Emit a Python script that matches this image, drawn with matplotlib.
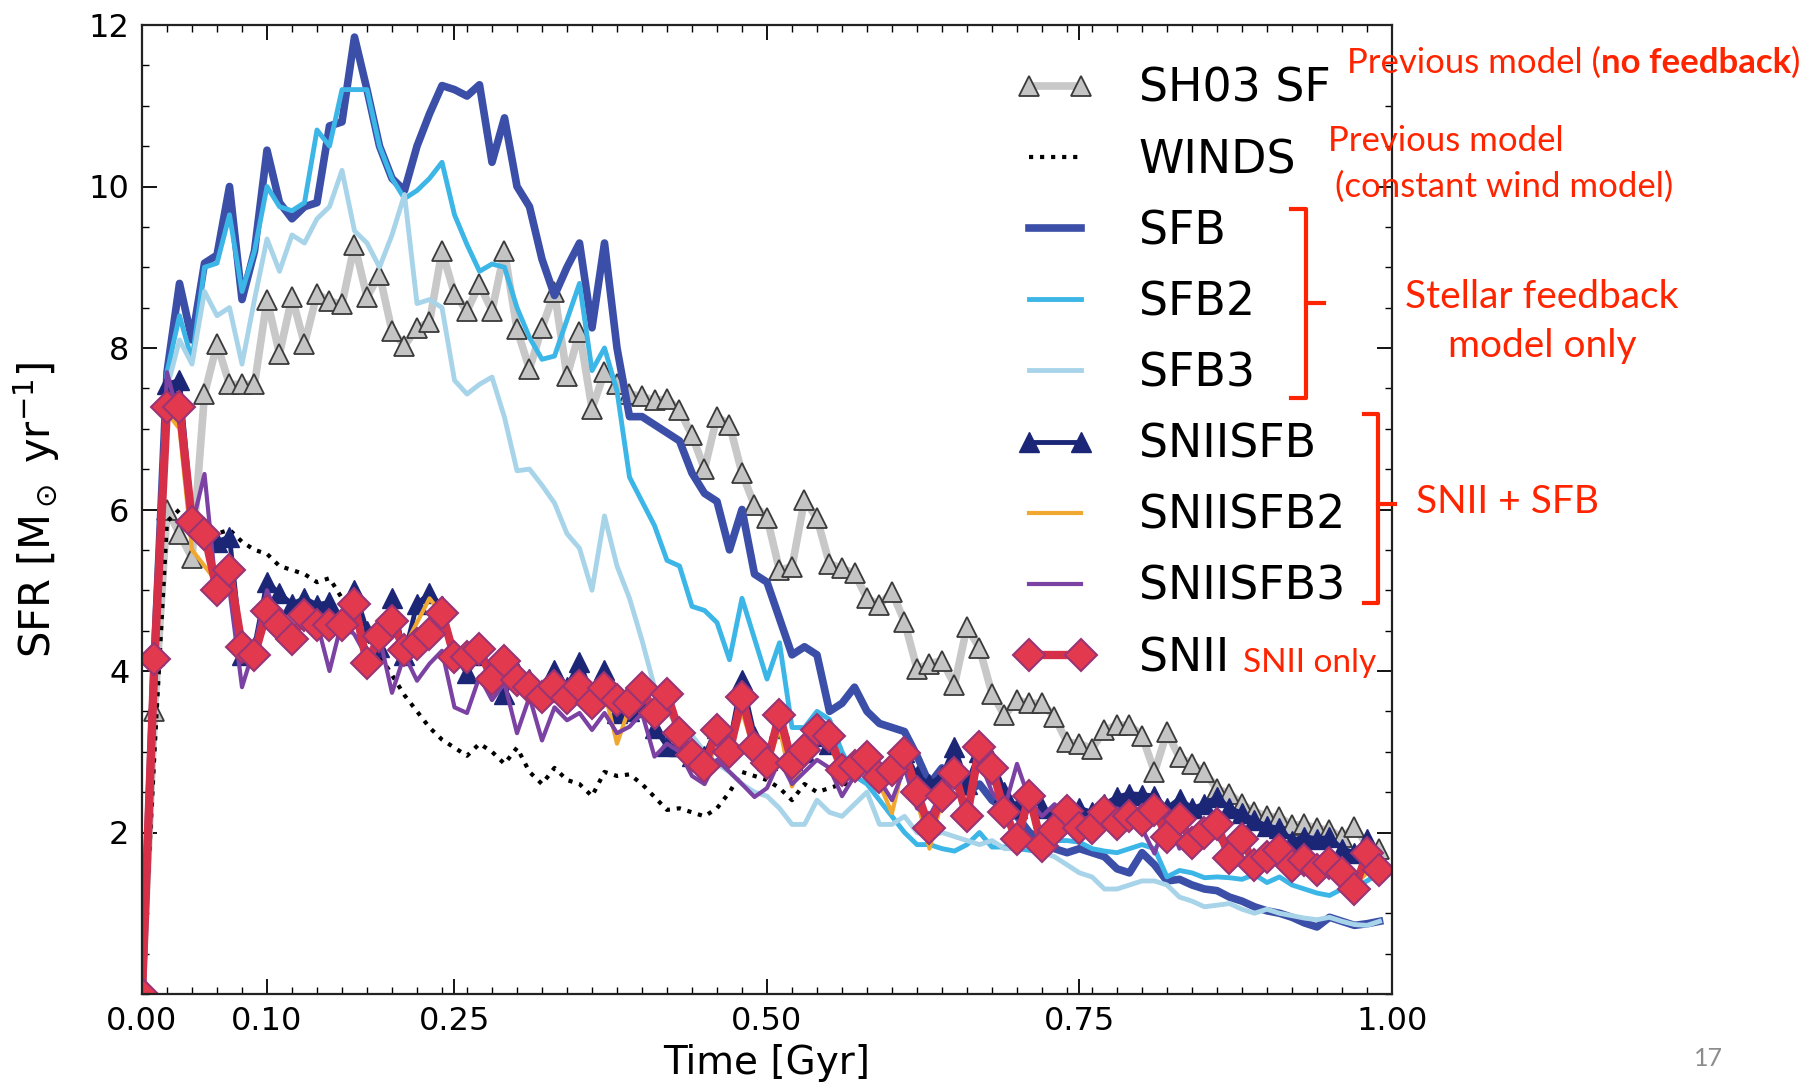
import numpy as np
import matplotlib
matplotlib.use('Agg')
import matplotlib.pyplot as plt
from matplotlib.ticker import MultipleLocator

# time grid of the simulation outputs (Gyr), one output every 0.01 Gyr
time_gyr = np.arange(100) * 0.01

sh03 = [0.0, 3.5, 6.0, 5.7, 5.4, 7.43, 8.05, 7.55, 7.55, 7.55,
        8.6, 7.93, 8.63, 8.05, 8.67, 8.58, 8.54, 9.28, 8.63, 8.91,
        8.21, 8.03, 8.25, 8.32, 9.2, 8.67, 8.46, 8.79, 8.46, 9.2,
        8.23, 7.74, 8.25, 8.69, 7.65, 8.2, 7.25, 7.7, 7.56, 7.43,
        7.4, 7.35, 7.37, 7.23, 6.92, 6.5, 7.15, 7.05, 6.45, 6.05,
        5.9, 5.25, 5.29, 6.12, 5.89, 5.33, 5.27, 5.21, 4.9, 4.82,
        4.98, 4.61, 4.03, 4.09, 4.13, 3.83, 4.55, 4.28, 3.72, 3.45,
        3.64, 3.6, 3.6, 3.43, 3.12, 3.1, 3.04, 3.27, 3.33, 3.33,
        3.2, 2.75, 3.24, 2.93, 2.85, 2.75, 2.54, 2.48, 2.35, 2.26,
        2.2, 2.19, 2.09, 2.1, 2.05, 2.03, 1.94, 2.07, 1.85, 1.8]

# the WINDS run stops around 0.57 Gyr
winds = [0.0, 3.0, 5.85, 6.0, 5.8, 5.75, 5.7, 5.75, 5.6, 5.5,
         5.45, 5.3, 5.25, 5.2, 5.1, 5.15, 4.9, 4.7, 4.4, 4.2,
         3.95, 3.7, 3.5, 3.3, 3.15, 3.05, 2.95, 3.1, 3.0, 2.85,
         3.05, 2.75, 2.6, 2.8, 2.65, 2.6, 2.45, 2.75, 2.7, 2.72,
         2.6, 2.44, 2.28, 2.3, 2.25, 2.2, 2.3, 2.5, 2.75, 2.7,
         2.65, 2.55, 2.4, 2.6, 2.5, 2.55, 2.6, 2.6]

sfb = [0.0, 4.2, 7.7, 8.8, 8.1, 9.05, 9.15, 10.0, 8.6, 9.2,
       10.45, 9.8, 9.6, 9.75, 9.8, 10.75, 10.8, 11.85, 11.2, 10.5,
       10.1, 9.95, 10.5, 10.9, 11.25, 11.2, 11.12, 11.26, 10.3, 10.85,
       10.0, 9.75, 9.1, 8.65, 9.0, 9.3, 8.25, 9.3, 8.0, 7.15,
       7.15, 7.05, 6.95, 6.85, 6.45, 6.2, 6.1, 5.5, 6.0, 5.2,
       5.1, 4.65, 4.2, 4.3, 4.2, 3.5, 3.6, 3.8, 3.5, 3.35,
       3.3, 3.25, 2.95, 2.6, 2.8, 2.7, 2.5, 2.6, 2.4, 2.3,
       2.2, 2.0, 1.9, 1.8, 1.75, 1.8, 1.75, 1.7, 1.55, 1.5,
       1.75, 1.6, 1.4, 1.42, 1.35, 1.3, 1.28, 1.2, 1.15, 1.08,
       1.03, 1.0, 0.95, 0.88, 0.83, 0.95, 0.9, 0.85, 0.87, 0.9]

sfb2 = [0.0, 4.2, 7.7, 8.4, 7.85, 9.0, 9.05, 9.65, 8.7, 9.2,
        10.0, 9.75, 9.7, 9.8, 10.7, 10.5, 11.2, 11.2, 11.2, 10.5,
        10.1, 9.85, 9.95, 10.1, 10.3, 9.65, 9.28, 8.95, 9.04, 9.0,
        8.5, 8.13, 7.86, 7.9, 8.35, 8.8, 7.72, 8.0, 7.47, 6.4,
        6.1, 5.8, 5.37, 5.3, 4.8, 4.75, 4.6, 4.14, 4.9, 4.4,
        3.9, 4.35, 3.3, 3.3, 3.5, 3.4, 3.0, 2.7, 2.6, 2.4,
        2.2, 2.0, 1.85, 1.85, 1.8, 1.77, 1.85, 2.0, 1.82, 1.82,
        1.8, 1.78, 1.75, 1.9, 1.9, 1.88, 1.8, 1.77, 1.75, 1.8,
        1.85, 1.8, 1.45, 1.53, 1.5, 1.44, 1.45, 1.44, 1.42, 1.48,
        1.38, 1.45, 1.35, 1.3, 1.25, 1.22, 1.3, 1.32, 1.4, 1.5]

sfb3 = [0.0, 4.2, 7.5, 8.1, 7.8, 8.7, 8.4, 8.5, 7.8, 8.6,
        9.35, 8.95, 9.4, 9.3, 9.6, 9.75, 10.2, 9.45, 9.3, 9.0,
        9.4, 9.9, 8.55, 8.6, 8.5, 7.6, 7.43, 7.55, 7.64, 7.14,
        6.48, 6.5, 6.3, 6.08, 5.7, 5.52, 5.0, 5.92, 5.3, 4.9,
        4.38, 3.8, 3.5, 3.3, 3.2, 3.0, 2.85, 2.75, 2.6, 2.5,
        2.45, 2.3, 2.1, 2.1, 2.4, 2.25, 2.2, 2.35, 2.5, 2.1,
        2.1, 2.2, 2.0, 1.95, 2.0, 1.95, 1.9, 1.85, 1.9, 1.8,
        1.8, 1.85, 1.75, 1.7, 1.6, 1.5, 1.45, 1.3, 1.3, 1.35,
        1.4, 1.4, 1.35, 1.2, 1.15, 1.08, 1.1, 1.12, 1.05, 1.0,
        1.05, 1.0, 0.97, 0.94, 0.92, 0.95, 0.9, 0.86, 0.85, 0.9]

sniisfb = [0.0, 4.2, 7.55, 7.6, 5.9, 5.75, 5.6, 5.66, 4.2, 4.3,
           5.1, 4.96, 4.83, 4.9, 4.82, 4.85, 4.6, 5.0, 4.5, 4.3,
           4.9, 4.2, 4.83, 4.96, 4.8, 4.2, 3.97, 4.2, 4.05, 3.72,
           4.0, 3.9, 3.75, 4.01, 3.8, 4.11, 3.7, 4.01, 3.48, 3.5,
           3.55, 3.3, 3.07, 3.07, 2.95, 2.95, 3.3, 3.1, 3.89, 3.2,
           2.9, 3.3, 2.9, 3.0, 3.2, 3.1, 2.8, 2.9, 3.0, 2.75,
           2.8, 3.0, 2.7, 2.6, 2.7, 3.06, 2.6, 3.0, 2.9, 2.5,
           2.3, 2.5, 2.3, 2.2, 2.3, 2.3, 2.25, 2.35, 2.44, 2.48,
           2.47, 2.45, 2.3, 2.42, 2.3, 2.35, 2.44, 2.3, 2.24, 2.15,
           2.08, 2.05, 1.9, 1.95, 1.92, 1.94, 1.8, 1.75, 1.92, 1.6]

sniisfb2 = [0.0, 4.2, 7.2, 7.0, 5.5, 5.3, 5.1, 5.3, 4.4, 4.3,
            4.7, 4.6, 4.45, 4.7, 4.55, 4.6, 4.5, 4.8, 4.15, 4.45,
            4.65, 4.3, 4.6, 4.9, 4.7, 4.2, 4.1, 4.25, 4.0, 4.2,
            3.85, 3.8, 3.7, 3.85, 3.7, 3.8, 3.6, 3.75, 3.1, 3.55,
            3.75, 3.45, 3.6, 3.2, 2.9, 2.6, 3.2, 3.0, 3.5, 3.0,
            2.8, 3.3, 2.57, 2.9, 3.2, 3.1, 2.75, 2.8, 2.85, 2.6,
            2.24, 2.9, 2.4, 1.8, 2.4, 2.7, 2.1, 2.95, 2.7, 2.2,
            1.9, 2.4, 1.8, 2.0, 2.2, 2.0, 2.0, 2.2, 2.1, 2.2,
            2.1, 2.25, 1.9, 2.3, 1.85, 2.0, 2.05, 1.7, 1.9, 1.6,
            1.7, 1.75, 1.6, 1.65, 1.55, 1.6, 1.5, 1.35, 1.5, 1.55]

sniisfb3 = [0.0, 4.2, 7.7, 7.1, 5.8, 6.44, 4.9, 5.0, 3.8, 4.3,
            5.0, 4.62, 4.45, 4.7, 4.6, 4.0, 4.62, 4.45, 4.17, 4.42,
            3.73, 4.2, 3.88, 4.09, 4.25, 3.55, 3.48, 3.93, 3.64, 3.85,
            3.23, 3.68, 3.14, 3.55, 3.39, 3.48, 3.27, 3.48, 3.23, 3.31,
            3.48, 2.94, 3.1, 3.0, 2.7, 2.6, 2.9, 2.75, 2.6, 2.44,
            2.55, 2.9, 2.6, 2.75, 2.9, 2.8, 2.45, 2.7, 2.8, 2.65,
            2.4, 2.8, 2.3, 2.2, 2.5, 2.6, 2.3, 2.9, 2.5, 2.3,
            2.85, 2.4, 2.2, 2.35, 2.2, 2.15, 2.2, 2.1, 2.3, 2.2,
            2.05, 1.74, 2.2, 1.8, 2.05, 1.9, 1.95, 1.75, 1.9, 1.65,
            1.75, 1.8, 1.6, 1.7, 1.6, 1.65, 1.55, 1.4, 1.7, 1.55]

snii = [0.0, 4.15, 7.27, 7.27, 5.85, 5.7, 5.0, 5.25, 4.3, 4.2,
        4.74, 4.57, 4.4, 4.69, 4.57, 4.57, 4.57, 4.83, 4.1, 4.43,
        4.62, 4.26, 4.34, 4.46, 4.72, 4.17, 4.17, 4.27, 3.9, 4.13,
        3.89, 3.8, 3.68, 3.82, 3.66, 3.82, 3.6, 3.79, 3.64, 3.6,
        3.79, 3.48, 3.72, 3.23, 2.96, 2.82, 3.27, 3.0, 3.68, 3.06,
        2.86, 3.46, 2.86, 3.02, 3.27, 3.19, 2.78, 2.82, 2.94, 2.69,
        2.78, 2.99, 2.5, 2.05, 2.45, 2.74, 2.2, 3.06, 2.8, 2.26,
        1.92, 2.45, 1.83, 2.03, 2.27, 2.05, 2.05, 2.25, 2.1, 2.2,
        2.15, 2.28, 1.95, 2.17, 1.87, 2.0, 2.1, 1.69, 1.92, 1.6,
        1.7, 1.78, 1.58, 1.66, 1.54, 1.62, 1.5, 1.3, 1.74, 1.54]

x_ticks = [0.0, 0.1, 0.25, 0.5, 0.75, 1.0]
y_ticks = [2, 4, 6, 8, 10, 12]

RED = '#ff2400'
W, H = 1808, 1086

fig = plt.figure(figsize=(W / 100, H / 100), dpi=100)
ax = fig.add_axes([142 / W, 1 - 994 / H, 1250 / W, 969 / H])

ax.plot(time_gyr, sh03, color='#c8c8c8', lw=5.5, marker='^', ms=15,
        mfc='#c4c4c4', mec='#3a3a3a', mew=1.3, label='SH03 SF')
ax.plot(time_gyr[:len(winds)], winds, color='black', lw=3, ls=':', label='WINDS')
ax.plot(time_gyr, sfb, color='#3b4fa8', lw=5.5, label='SFB')
ax.plot(time_gyr, sfb2, color='#3bb6e6', lw=3.5, label='SFB2')
ax.plot(time_gyr, sfb3, color='#a8d4ea', lw=3.5, label='SFB3')
ax.plot(time_gyr, sniisfb, color='#1c2677', lw=3.5, marker='^', ms=14,
        mfc='#1c2677', mec='#1c2677', label='SNIISFB')
ax.plot(time_gyr, sniisfb2, color='#f0a830', lw=3, label='SNIISFB2')
ax.plot(time_gyr, sniisfb3, color='#7b42a3', lw=3, label='SNIISFB3')
ax.plot(time_gyr, snii, color='#d62f48', lw=6, marker='D', ms=16,
        mfc='#e2394f', mec='#9a3474', mew=1.5, label='SNII')

ax.set_xlim(0, 1.0)
ax.set_ylim(0, 12)
ax.set_xticks(x_ticks)
ax.set_xticklabels(['%.2f' % v for v in x_ticks])
ax.set_yticks(y_ticks)
ax.xaxis.set_minor_locator(MultipleLocator(0.02))
ax.yaxis.set_minor_locator(MultipleLocator(0.5))
ax.tick_params(which='both', direction='in', top=True, right=True, labelsize=23)
ax.tick_params(which='major', length=11, width=1.3, pad=9)
ax.tick_params(which='minor', length=5, width=1.0)
for sp in ax.spines.values():
    sp.set_linewidth(1.6)
    sp.set_color('#222222')

ax.set_xlabel('Time [Gyr]', fontsize=28)
ax.set_ylabel(r'SFR [M$_\odot$ yr$^{-1}$]', fontsize=30)
ax.xaxis.set_label_coords(0.5, -0.052)
ax.yaxis.set_label_coords(-0.064, 0.5)

ax.legend(loc='upper left', bbox_to_anchor=(1015 / W, 1 - 67 / H),
          bbox_transform=fig.transFigure, frameon=False, fontsize=33,
          numpoints=2, handlelength=1.75, handletextpad=0.95,
          labelspacing=0.57, borderpad=0, borderaxespad=0)

# overlay in pixel coordinates for the slide annotations
ov = fig.add_axes([0, 0, 1, 1], zorder=5)
ov.set_xlim(0, W)
ov.set_ylim(H, 0)
ov.axis('off')
ov.patch.set_alpha(0)

renderer = fig.canvas.get_renderer()


def put_runs(x, y, runs, size):
    for s, weight in runs:
        t = ov.text(x, y, s, color=RED, fontsize=size, fontweight=weight,
                    family='Lato', ha='left', va='center')
        x += t.get_window_extent(renderer=renderer).width


def bracket(x0, x1, ytop, ybot, ymid, xtick):
    ov.plot([x0, x1, x1, x0], [ytop, ytop, ybot, ybot], color=RED, lw=3,
            solid_joinstyle='round')
    ov.plot([x1, xtick], [ymid, ymid], color=RED, lw=3)


put_runs(1347, 63, [('Previous model (', 'normal'), ('no feedback', 'bold'), (')', 'normal')], 25)
ov.text(1328, 141, 'Previous model', color=RED, fontsize=25, family='Lato', va='center')
ov.text(1335, 187, '(constant wind model)', color=RED, fontsize=25, family='Lato', va='center')
ov.text(1542, 297, 'Stellar feedback', color=RED, fontsize=28, family='Lato', ha='center', va='center')
ov.text(1542, 346, 'model only', color=RED, fontsize=28, family='Lato', ha='center', va='center')
ov.text(1416, 502, 'SNII + SFB', color=RED, fontsize=28, family='Lato', va='center')
ov.text(1243, 663, 'SNII only', color=RED, fontsize=24, family='Lato', va='center')
ov.text(1708, 1058, '17', color='#8c8c8c', fontsize=18, family='Lato', ha='center', va='center')

bracket(1291, 1306, 209, 398, 303, 1324)
bracket(1364, 1378, 414, 603, 504, 1395)

fig.savefig('out.png', dpi=100)
